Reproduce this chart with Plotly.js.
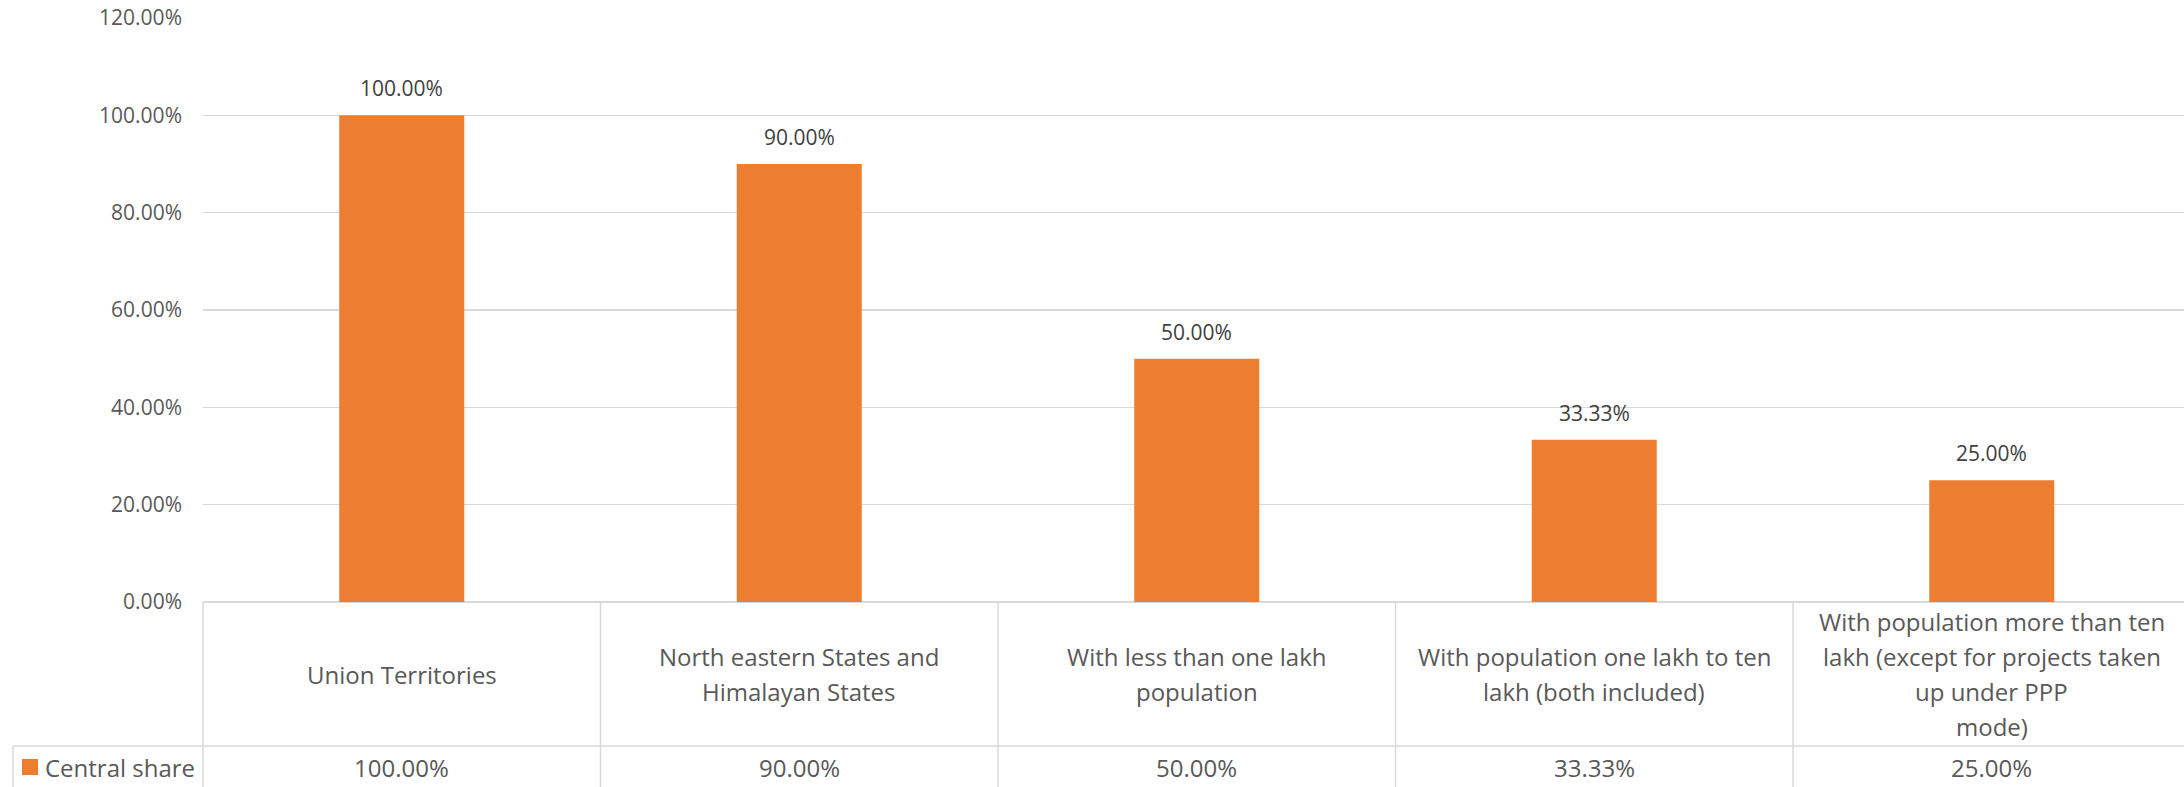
<!DOCTYPE html>
<html>
<head>
<meta charset="utf-8">
<script src="https://cdn.plot.ly/plotly-3.0.1.min.js"></script>
<style>
  html, body { margin: 0; padding: 0; background: #ffffff; }
  #chart { width: 2184px; height: 787px; }
</style>
</head>
<body>
<div id="chart"></div>
<script>
// ---- data ----
const categories = [
  "Union Territories",
  "North eastern States and<br>Himalayan States",
  "With less than one lakh<br>population",
  "With population one lakh to ten<br>lakh (both included)",
  "With population more than ten<br>lakh (except for projects taken<br>up under PPP<br>mode)"
];
const centralShare = [100.00, 90.00, 50.00, 33.33, 25.00];
const seriesName = "Central share";
const yTicks = [0, 20, 40, 60, 80, 100, 120];
const yTickLabels = ["0.00%", "20.00%", "40.00%", "60.00%", "80.00%", "100.00%", "120.00%"];

// ---- layout constants ----
const W = 2184, H = 787;
const plotLeft = 203, plotTop = 18, plotBottom = 602;
const plotW = W - plotLeft, plotH = plotBottom - plotTop;
const catW = 397.5;
const xr = [-0.5, -0.5 + plotW / catW];
const gray = '#D9D9D9';
const txt = '#595959';
const orange = '#ED7D31';
const FONT = '"Open Sans", "Noto Sans", sans-serif';

const pxToPaperY = py => (plotBottom - py) / plotH;
const pxToPaperX = px => (px - plotLeft) / plotW;
const dataToPaperX = x => (x - xr[0]) / (xr[1] - xr[0]);

const tableLeftPx = 13;
const rowDivPx = 746;

const shapes = [];
// vertical cell boundaries
for (let k = 0; k < categories.length; k++) {
  const px = dataToPaperX(k - 0.5);
  shapes.push({type: 'line', xref: 'paper', yref: 'paper', x0: px, x1: px,
    y0: 0, y1: pxToPaperY(H + 5), line: {color: gray, width: 1.5}, layer: 'above'});
}
// left edge of legend cell
shapes.push({type: 'line', xref: 'paper', yref: 'paper',
  x0: pxToPaperX(tableLeftPx), x1: pxToPaperX(tableLeftPx),
  y0: pxToPaperY(rowDivPx), y1: pxToPaperY(H + 5), line: {color: gray, width: 1.5}});
// row divider
shapes.push({type: 'line', xref: 'paper', yref: 'paper',
  x0: pxToPaperX(tableLeftPx), x1: 1.01,
  y0: pxToPaperY(rowDivPx), y1: pxToPaperY(rowDivPx), line: {color: gray, width: 1.5}});
// legend key
shapes.push({type: 'rect', xref: 'paper', yref: 'paper',
  x0: pxToPaperX(22), x1: pxToPaperX(38), y0: pxToPaperY(759), y1: pxToPaperY(775),
  fillcolor: orange, line: {width: 0}});

const annotations = [];
// data labels above bars
categories.forEach((c, i) => {
  annotations.push({x: i, y: centralShare[i], xref: 'x', yref: 'y',
    text: centralShare[i].toFixed(2) + '%', showarrow: false,
    yanchor: 'middle', yshift: 27,
    font: {family: FONT, size: 21, color: '#404040'}});
});
// category labels (table header row), one annotation per line
const labelCenterPx = 674, linePitch = 35;
categories.forEach((c, i) => {
  const lines = c.split('<br>');
  lines.forEach((ln, j) => {
    const off = (j - (lines.length - 1) / 2) * linePitch;
    annotations.push({x: i, xref: 'x', y: pxToPaperY(labelCenterPx), yref: 'paper',
      text: ln, showarrow: false, yanchor: 'middle', xanchor: 'center', yshift: -off,
      font: {family: FONT, size: 24, color: txt}});
  });
});
// value row
categories.forEach((c, i) => {
  annotations.push({x: i, xref: 'x', y: pxToPaperY(767), yref: 'paper',
    text: centralShare[i].toFixed(2) + '%', showarrow: false, yanchor: 'middle',
    font: {family: FONT, size: 24, color: txt}});
});
// legend text
annotations.push({x: pxToPaperX(43), xref: 'paper', y: pxToPaperY(767), yref: 'paper',
  text: seriesName, showarrow: false, xanchor: 'left', yanchor: 'middle',
  font: {family: FONT, size: 24, color: txt}});

const trace = {
  type: 'bar',
  x: categories.map((c, i) => i),
  y: centralShare,
  name: seriesName,
  marker: {color: orange, line: {width: 0}},
  hoverinfo: 'skip'
};

const layout = {
  width: W, height: H,
  margin: {l: plotLeft, r: 0, t: plotTop, b: H - plotBottom, pad: 0},
  paper_bgcolor: '#ffffff', plot_bgcolor: '#ffffff',
  showlegend: false,
  bargap: 0.6855,
  font: {family: FONT, color: txt},
  xaxis: {range: xr, showticklabels: false, showgrid: false, zeroline: false,
    showline: false, ticks: '', fixedrange: true},
  yaxis: {range: [0, 120], tickmode: 'array', tickvals: yTicks, ticktext: yTickLabels,
    showgrid: true, gridcolor: gray, gridwidth: 1.3, zeroline: true,
    zerolinecolor: gray, zerolinewidth: 1.5, showline: false, ticks: '',
    ticklabelstandoff: 20,
    tickfont: {family: FONT, size: 21, color: txt}, fixedrange: true},
  shapes: shapes,
  annotations: annotations
};

Plotly.newPlot('chart', [trace], layout, {displayModeBar: false, staticPlot: true});
</script>
</body>
</html>
